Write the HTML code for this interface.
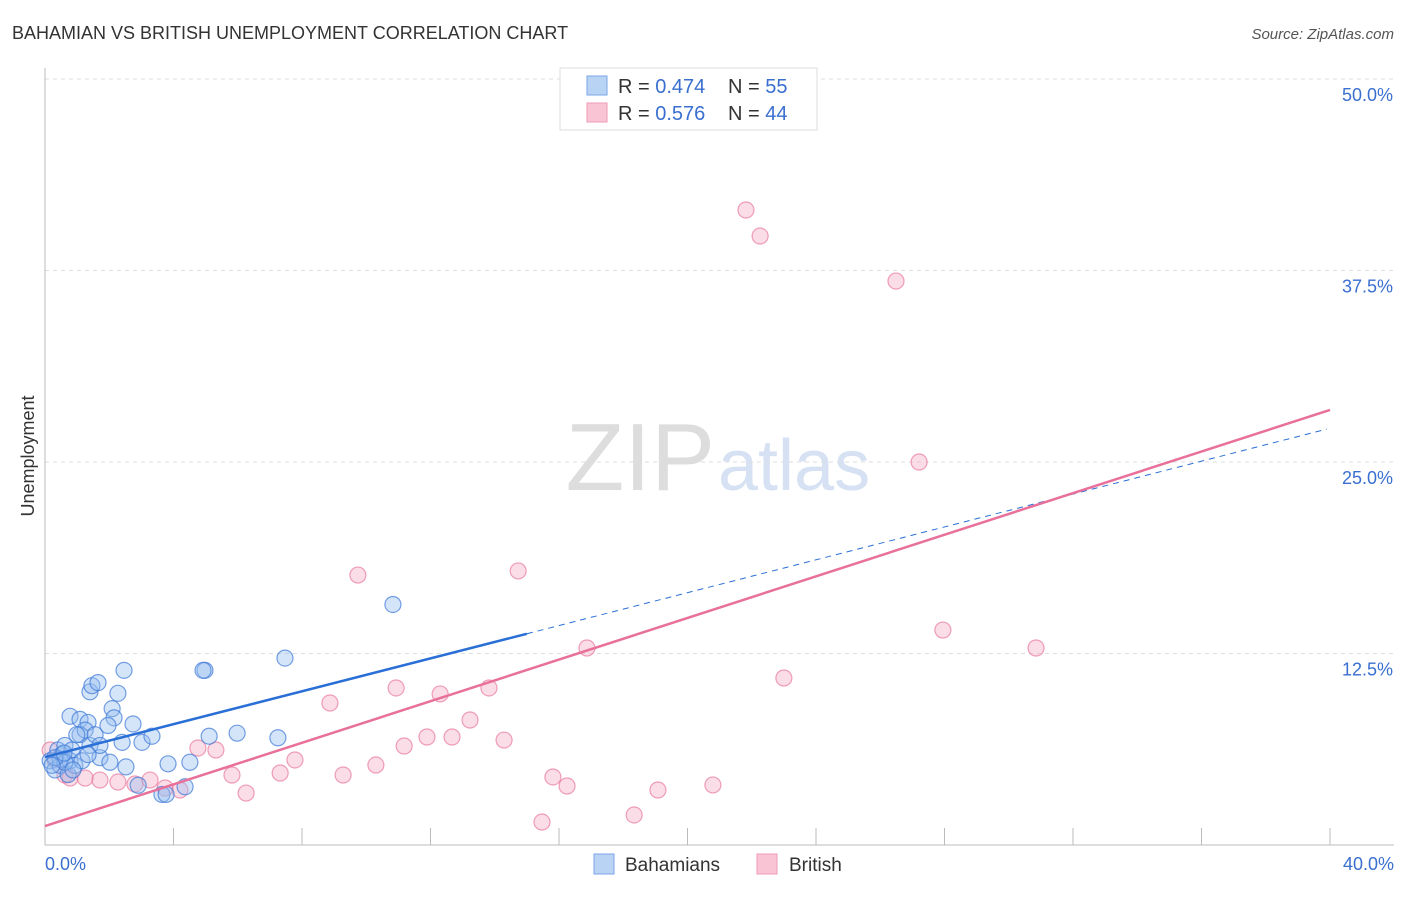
<!DOCTYPE html>
<html><head><meta charset="utf-8"><style>
body{margin:0;background:#fff;font-family:"Liberation Sans",sans-serif}
svg text{font-family:"Liberation Sans",sans-serif}
</style></head><body>
<svg id="chart" width="1406" height="892">
<text x="12" y="39" font-size="18" fill="#333">BAHAMIAN VS BRITISH UNEMPLOYMENT CORRELATION CHART</text>
<text x="1394" y="39" font-size="15" fill="#555" font-style="italic" text-anchor="end">Source: ZipAtlas.com</text>
<text x="34" y="456" font-size="18" fill="#333" transform="rotate(-90 34 456)" text-anchor="middle">Unemployment</text>
<text x="715" y="490" font-size="96" fill="#ddd" font-family="Liberation Serif" text-anchor="end">ZIP</text>
<text x="718" y="490" font-size="72" fill="#d6e2f3">atlas</text>
<g id="grid"></g><g id="axes"></g><g id="pts"></g><g id="lines"></g>
<g>
<rect x="560" y="68" width="257" height="62" fill="#fff" stroke="#ddd"/>
<rect x="587" y="76" width="20" height="19" fill="#b9d3f5" stroke="#7aa6e6"/>
<rect x="587" y="103" width="20" height="19" fill="#f9c5d4" stroke="#ee9ab4"/>
<text x="618" y="93" font-size="20" fill="#333">R = <tspan fill="#3a6fd0">0.474</tspan></text>
<text x="728" y="93" font-size="20" fill="#333">N = <tspan fill="#3a6fd0"> 55</tspan></text>
<text x="618" y="120" font-size="20" fill="#333">R = <tspan fill="#3a6fd0">0.576</tspan></text>
<text x="728" y="120" font-size="20" fill="#333">N = <tspan fill="#3a6fd0">44</tspan></text>
</g>
<g>
<rect x="594" y="854" width="20" height="20" fill="#b9d3f5" stroke="#7aa6e6"/>
<text x="625" y="871" font-size="19" fill="#333">Bahamians</text>
<rect x="757" y="854" width="20" height="20" fill="#f9c5d4" stroke="#ee9ab4"/>
<text x="789" y="871" font-size="19" fill="#333">British</text>
</g>
</svg>
<script>
const yTicks=[12.5,25,37.5,50];
const yTickLabels=["12.5%","25.0%","37.5%","50.0%"];
const xTickLabels=["0.0%","40.0%"];
const bahX=[0.16,0.31,0.4,0.47,0.53,0.62,0.72,0.78,0.84,0.93,0.78,1.09,1.34,1.09,1.25,1.4,1.56,1.4,1.46,1.65,2.27,2.46,2.09,2.15,1.96,2.74,2.4,3.02,3.33,1.71,2.02,2.52,2.9,3.64,3.77,3.83,4.36,4.51,4.98,4.92,5.11,5.98,7.25,7.47,10.83,1.15,0.47,0.62,0.31,1.71,0.99,0.59,0.22,0.87,1.34];
const bahY=[5.5,4.9,6.2,5.2,5.9,6.5,4.6,5.5,6.2,5.2,8.4,8.2,8.0,7.2,7.5,6.5,7.2,10.0,10.4,10.6,9.9,11.4,8.9,8.3,7.8,7.9,6.7,6.7,7.1,5.7,5.4,5.1,3.9,3.3,3.3,5.3,3.8,5.4,11.4,11.4,7.1,7.3,7.0,12.2,15.7,5.5,5.6,5.4,5.7,6.5,7.2,6.0,5.2,4.9,5.9];
const briX=[0.16,0.31,0.62,0.78,1.25,1.71,2.27,2.8,3.27,3.74,4.2,4.76,5.32,5.82,6.26,7.32,7.78,8.87,9.28,9.74,10.3,10.93,11.18,11.89,12.3,12.67,13.23,13.82,14.29,14.73,15.47,15.81,16.25,16.87,18.34,19.08,20.79,21.82,22.26,23.0,26.49,27.21,27.95,30.85];
const briY=[6.2,5.55,4.57,4.37,4.37,4.24,4.11,3.98,4.24,3.72,3.59,6.33,6.2,4.57,3.39,4.7,5.55,9.27,4.57,17.62,5.22,10.25,6.46,7.05,9.86,7.05,8.16,10.25,6.85,17.89,1.5,4.44,3.85,12.86,1.96,3.59,3.92,41.45,39.75,10.9,36.81,25.0,14.03,12.86];
const bahLine=[5.74,27.2], bahSolidEnd=15.0;
const briLine=[1.24,28.4];
const NS="http://www.w3.org/2000/svg";
const X=v=>45+v/40*1285, Y=v=>845-v/12.5*191.5;
function mk(t,a,p){const e=document.createElementNS(NS,t);for(const k in a)e.setAttribute(k,a[k]);document.getElementById(p).appendChild(e);return e;}
yTicks.forEach((t,i)=>{
 const g=mk('line',{x1:45,x2:1394,y1:Y(t),y2:Y(t),stroke:'#ddd','stroke-dasharray':'4,4'},'grid');
 
 
 const l=mk('text',{x:1393,y:Y(t)+22,'font-size':18,fill:'#3a6fd0','text-anchor':'end'},'grid');l.textContent=yTickLabels[i];
 
 
});
const ya=mk('line',{x1:45,x2:45,y1:68,y2:845,stroke:'#bbb'},'axes');


const xa=mk('line',{x1:45,x2:1394,y1:845,y2:845,stroke:'#bbb'},'axes');


for(let i=1;i<=10;i++){const t=mk('line',{x1:X(i*4),x2:X(i*4),y1:828,y2:845,stroke:'#bbb'},'axes');
 
 }
[[0,'start',45],[40,'end',1394]].forEach((d,i)=>{const t=mk('text',{x:d[2],y:870,'font-size':18,fill:'#3a6fd0','text-anchor':d[1]},'axes');t.textContent=xTickLabels[i];
 
 });
briX.forEach((x,i)=>{const c=mk('circle',{cx:X(x),cy:Y(briY[i]),r:8,fill:'rgba(246,170,195,0.4)',stroke:'rgba(232,120,155,0.7)','stroke-width':1.2},'pts');
 
 });
bahX.forEach((x,i)=>{const c=mk('circle',{cx:X(x),cy:Y(bahY[i]),r:8,fill:'rgba(150,190,240,0.4)',stroke:'rgba(60,120,215,0.7)','stroke-width':1.2},'pts');
 
 });
const by=x=>bahLine[0]+(bahLine[1]-bahLine[0])*x/40;
const l1=mk('line',{x1:X(0),y1:Y(by(0)),x2:X(bahSolidEnd),y2:Y(by(bahSolidEnd)),stroke:'#2a6fd6','stroke-width':2.5},'lines');


const l2=mk('line',{x1:X(bahSolidEnd),y1:Y(by(bahSolidEnd)),x2:X(39.9),y2:Y(by(39.9)),stroke:'#2a6fd6','stroke-width':1,'stroke-dasharray':'6,5'},'lines');


const l3=mk('line',{x1:X(0),y1:Y(briLine[0]),x2:X(40),y2:Y(briLine[1]),stroke:'#e8709a','stroke-width':2.5},'lines');


</script>
</body></html>
